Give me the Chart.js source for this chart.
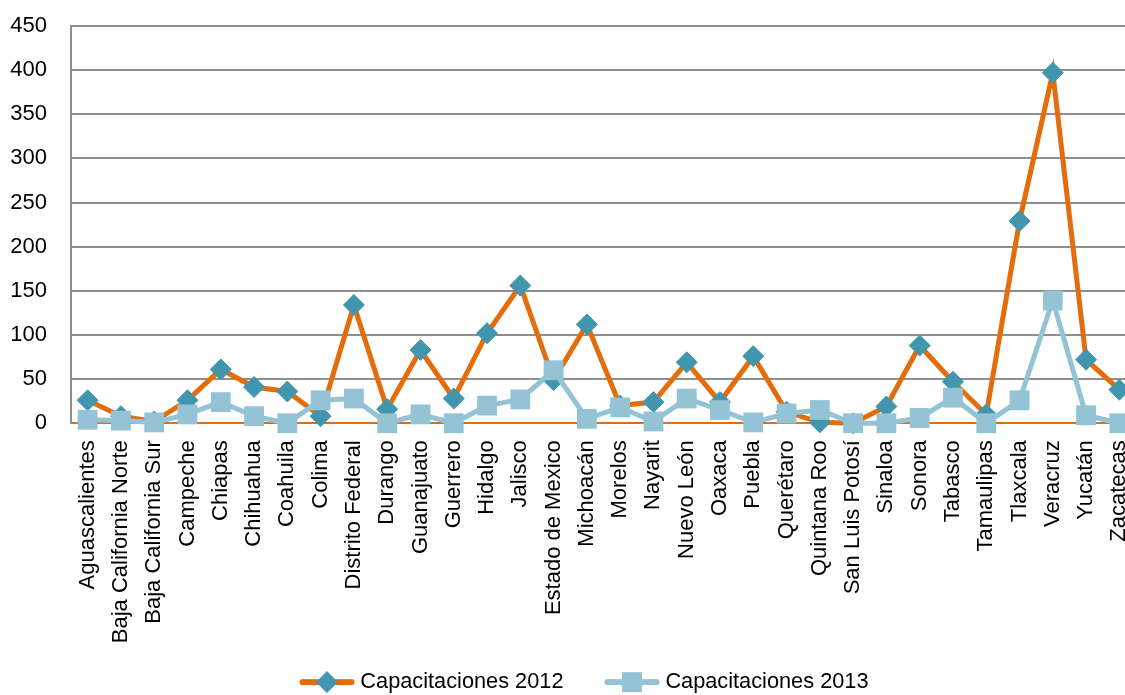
<!DOCTYPE html>
<html><head><meta charset="utf-8">
<script src="https://cdn.jsdelivr.net/npm/chart.js@4/dist/chart.umd.min.js"></script>
<style>html,body{margin:0;padding:0;overflow:hidden;background:#fff}#wrap{width:1150px;height:695px;position:relative}canvas{display:block}</style>
</head><body><div id="wrap"><canvas id="c" width="1150" height="695"></canvas></div>
<script>
const states = ["Aguascalientes","Baja California Norte","Baja California Sur","Campeche","Chiapas","Chihuahua","Coahuila","Colima","Distrito Federal","Durango","Guanajuato","Guerrero","Hidalgo","Jalisco","Estado de Mexico","Michoacán","Morelos","Nayarit","Nuevo León","Oaxaca","Puebla","Querétaro","Quintana Roo","San Luis Potosí","Sinaloa","Sonora","Tabasco","Tamaulipas","Tlaxcala","Veracruz","Yucatán","Zacatecas"];
const cap2012 = [26, 8, 2, 26, 61, 41, 36, 8, 134, 16, 83, 28, 102, 156, 49, 112, 20, 24, 69, 24, 76, 13, 1, 0, 19, 88, 47, 10, 229, 397, 72, 38];
const cap2013 = [4, 3, 1, 10, 24, 8, 0, 26, 28, 0, 10, 0, 20, 27, 60, 5, 18, 2, 28, 15, 1, 11, 15, 0, 0, 6, 29, 0, 26, 139, 9, 0];
const seriesNames = ["Capacitaciones 2012", "Capacitaciones 2013"];
const yMax = 450, yStep = 50;

const ORANGE = '#E46C0A', TEAL = '#4196AD', LIGHT = '#93C3D5', GRID = '#8f8f8f';
const FONT = "'Liberation Sans', Arial, sans-serif";
const FS = 22, LFS = 21.75;
const PAD_L = -13;

function legendImg(lineColor, marker, markerColor) {
  const c = document.createElement('canvas');
  c.width = 100; c.height = 26;
  const g = c.getContext('2d');
  g.strokeStyle = lineColor; g.lineWidth = 6; g.lineCap = 'round';
  g.beginPath(); g.moveTo(43.5, 13); g.lineTo(92.5, 13); g.stroke();
  g.fillStyle = markerColor;
  const cx = 68, cy = 13;
  if (marker === 'diamond') {
    g.beginPath(); g.moveTo(cx - 11, cy); g.lineTo(cx, cy - 11); g.lineTo(cx + 11, cy); g.lineTo(cx, cy + 11); g.closePath(); g.fill();
  } else {
    g.fillRect(cx - 10, cy - 10, 20, 20);
  }
  return c;
}
const legImgs = [legendImg(ORANGE, 'diamond', TEAL), legendImg(LIGHT, 'square', LIGHT)];

new Chart(document.getElementById('c'), {
  type: 'line',
  data: {
    labels: states,
    datasets: [
      { label: seriesNames[0], data: cap2012, borderColor: ORANGE, borderWidth: 5, backgroundColor: TEAL,
        pointStyle: 'rectRot', pointRadius: 10.5, pointBackgroundColor: TEAL, pointBorderColor: TEAL, pointBorderWidth: 1,
        tension: 0, clip: false, order: 2 },
      { label: seriesNames[1], data: cap2013, borderColor: LIGHT, borderWidth: 5, backgroundColor: LIGHT,
        pointStyle: 'rect', pointRadius: 14, pointBackgroundColor: LIGHT, pointBorderColor: LIGHT, pointBorderWidth: 0,
        tension: 0, clip: false, order: 1 }
    ]
  },
  options: {
    responsive: false, animation: false, devicePixelRatio: 1,
    layout: { padding: { top: 26, left: PAD_L, right: 0, bottom: -8 } },
    plugins: {
      tooltip: { enabled: false },
      legend: {
        position: 'bottom',
        labels: {
          usePointStyle: true, pointStyleWidth: 81, padding: 10, color: '#000',
          font: { family: FONT, size: LFS },
          generateLabels: (chart) => chart.data.datasets.map((ds, i) => ({
            text: ds.label, pointStyle: legImgs[i], fillStyle: 'transparent', strokeStyle: 'transparent',
            lineWidth: 0, datasetIndex: i, hidden: false, fontColor: '#000'
          }))
        }
      }
    },
    scales: {
      x: {
        type: 'category', offset: true,
        grid: { display: false, drawTicks: false },
        border: { display: true, color: ORANGE, width: 2 },
        ticks: { autoSkip: false, minRotation: 90, maxRotation: 90, color: '#000', padding: 17,
                 font: { family: FONT, size: FS } },
        afterFit: (s) => { s.height = 238; s.paddingLeft = 0; s.paddingRight = 0; }
      },
      y: {
        min: 0, max: yMax,
        ticks: { stepSize: yStep, color: '#000', padding: 24, font: { family: FONT, size: FS } },
        grid: { drawTicks: false, lineWidth: 2, color: (ctx) => ctx.tick && ctx.tick.value === 0 ? 'rgba(0,0,0,0)' : GRID },
        border: { display: true, color: GRID, width: 2 },
        afterFit: (s) => { s.width = 71 - PAD_L; s.paddingTop = 0; s.paddingBottom = 0; }
      }
    }
  }
});
</script>
</body></html>
